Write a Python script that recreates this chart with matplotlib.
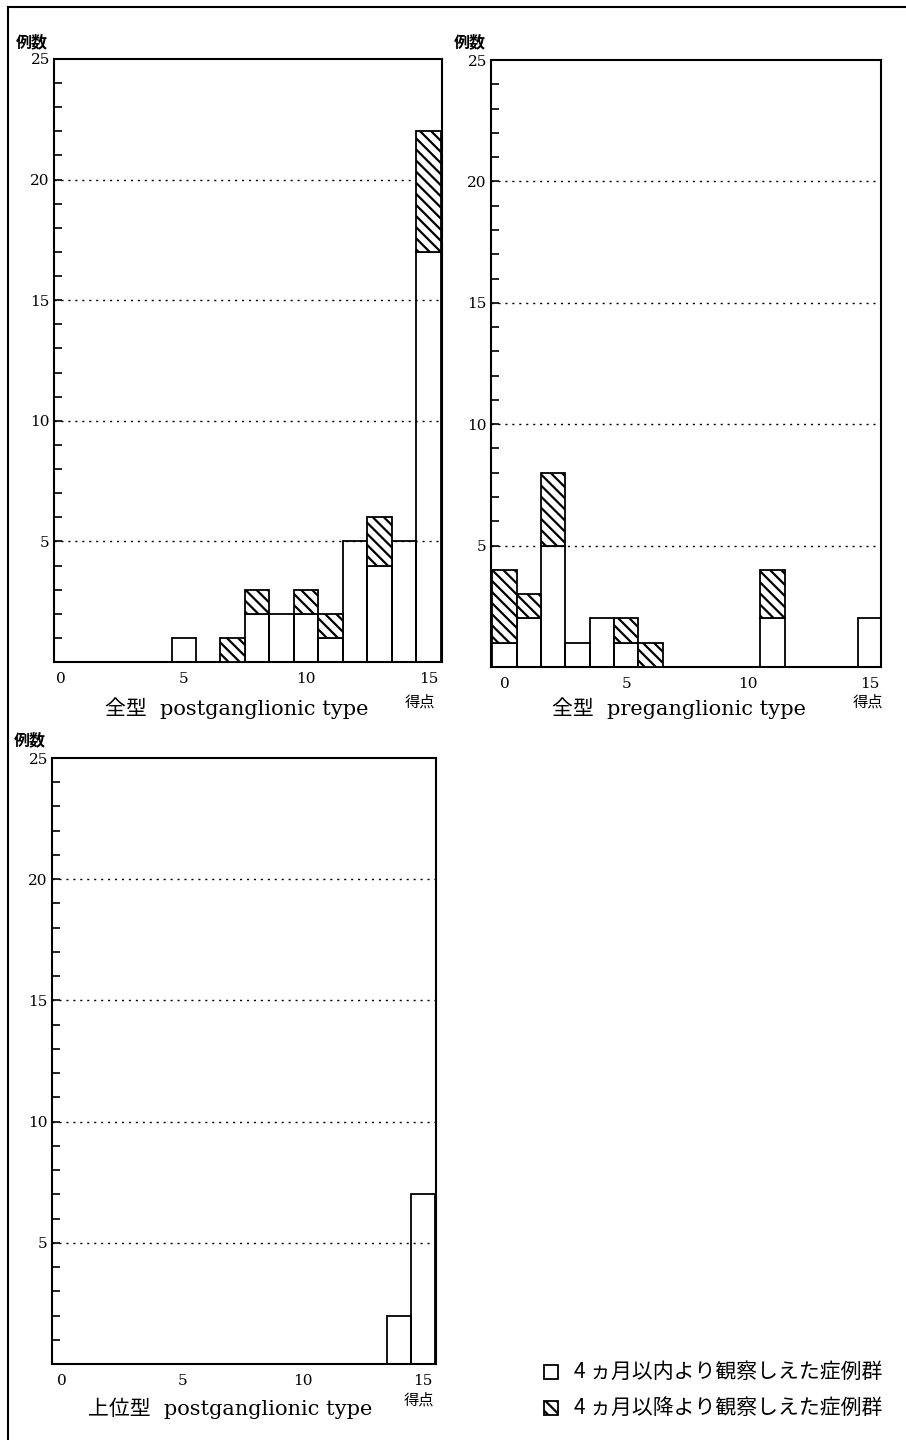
import numpy as np
import matplotlib
matplotlib.use("Agg")
import matplotlib.pyplot as plt
from matplotlib.patches import Rectangle
from matplotlib.lines import Line2D

plt.rcParams['hatch.linewidth'] = 1.6
SERIF = ['DejaVu Serif', 'Noto Sans CJK JP']
CJK = ['Noto Sans CJK JP', 'DejaVu Sans']

# scores 0..15, counts per score
scores = np.arange(16)
post_early = [0, 0, 0, 0, 0, 1, 0, 0, 2, 2, 2, 1, 5, 4, 5, 17]
post_late = [0, 0, 0, 0, 0, 0, 0, 1, 1, 0, 1, 1, 0, 2, 0, 5]
pre_early = [1, 2, 5, 1, 2, 1, 0, 0, 0, 0, 0, 2, 0, 0, 0, 2]
pre_late = [3, 1, 3, 0, 0, 1, 1, 0, 0, 0, 0, 2, 0, 0, 0, 0]
upper_early = [0, 0, 0, 0, 0, 0, 0, 0, 0, 0, 0, 0, 0, 0, 2, 7]
upper_late = [0, 0, 0, 0, 0, 0, 0, 0, 0, 0, 0, 0, 0, 0, 0, 0]

titles = ['全型  postganglionic type', '全型  preganglionic type', '上位型  postganglionic type']
legend_labels = ['4 ヵ月以内より観察しえた症例群', '4 ヵ月以降より観察しえた症例群']

W, H = 906, 1440
def fx(x):
    return x / W
def fy(y):
    return 1 - y / H

fig = plt.figure(figsize=(9.06, 14.4), dpi=100)

# (left, top, right, bottom) in pixels, xlim
panels = [
    ((54, 59, 442, 662), (-0.3, 15.55), post_early, post_late),
    ((491, 60, 881, 667), (-0.55, 15.45), pre_early, pre_late),
    ((52, 758, 436, 1364), (-0.42, 15.54), upper_early, upper_late),
]

axes = []
for (l, t, r, b), xl, early, late in panels:
    ax = fig.add_axes([fx(l), fy(b), (r - l) / W, (b - t) / H])
    for y in [5, 10, 15, 20]:
        ax.axhline(y, color='black', lw=1.0, ls=(0, (1.5, 3.5)), zorder=1)
    ax.bar(scores, early, width=1.0, facecolor='none', edgecolor='black', lw=1.3, zorder=2)
    late_arr = np.array(late)
    mask = late_arr > 0
    ax.bar(scores[mask], late_arr[mask], width=1.0, bottom=np.array(early)[mask],
           facecolor='white', edgecolor='black', hatch='\\\\\\', lw=1.3, zorder=3)
    ax.set_xlim(*xl)
    ax.set_ylim(0, 25)
    ax.set_yticks([5, 10, 15, 20, 25])
    ax.set_yticks(range(1, 25), minor=True)
    ax.set_xticks([0, 5, 10, 15])
    ax.tick_params(axis='y', which='minor', direction='in', length=6, width=1.2)
    ax.tick_params(axis='y', which='major', direction='in', length=6, width=1.2, pad=3, labelsize=11)
    ax.tick_params(axis='x', length=0, pad=7, labelsize=11)
    for lab in ax.get_xticklabels() + ax.get_yticklabels():
        lab.set_fontfamily(SERIF)
    for s in ax.spines.values():
        s.set_linewidth(1.5)
    axes.append(ax)

# axis labels and titles
for (x, y) in [(32, 42), (470, 42), (30, 740)]:
    fig.text(fx(x), fy(y), '例数', family=CJK, fontsize=11.5, fontweight='bold', ha='center', va='center')
for (x, y) in [(420, 702), (868, 702), (419, 1400)]:
    fig.text(fx(x), fy(y), '得点', family=CJK, fontsize=11, ha='center', va='center')
for (x, y), t in zip([(237, 708), (679, 708), (230, 1408)], titles):
    fig.text(fx(x), fy(y), t, family=SERIF, fontsize=15, ha='center', va='center')

# legend
for i, (lab, hatch) in enumerate(zip(legend_labels, ['', '\\\\\\'])):
    yc = 1372 + 36 * i
    fig.add_artist(Rectangle((fx(544), fy(yc + 7)), 14 / W, 14 / H, transform=fig.transFigure,
                             facecolor='white', edgecolor='black', hatch=hatch, lw=1.3))
    fig.text(fx(574), fy(yc), lab, family=CJK, fontsize=15, ha='left', va='center')

# outer frame
fig.add_artist(Line2D([fx(8), fx(8)], [fy(7), 0], transform=fig.transFigure, color='black', lw=1.5))
fig.add_artist(Line2D([fx(8), 1], [fy(7), fy(7)], transform=fig.transFigure, color='black', lw=1.5))

fig.savefig('out.png', dpi=100)
